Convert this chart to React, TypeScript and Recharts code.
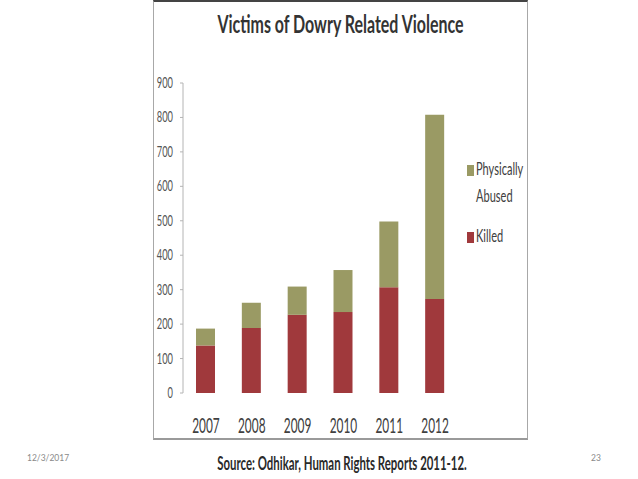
import React from 'react';
import { BarChart, Bar, XAxis, YAxis, Legend } from 'recharts';

// values
const years = ['2007', '2008', '2009', '2010', '2011', '2012'];
const killed = [138, 189, 227, 235, 307, 273];
const physicallyAbused = [49, 73, 82, 122, 191, 535];
const yTicks = [0, 100, 200, 300, 400, 500, 600, 700, 800, 900];
const edgeTicks = [0, 1, 2, 3, 4, 5, 6];

const KILLED_COLOR = '#a0393c';
const ABUSED_COLOR = '#9a9a64';
const AXIS_COLOR = '#b4b4b4';
const FONT = 'Lato, "Open Sans", sans-serif';

const data = years.map((year, i) => ({
  year,
  killed: killed[i],
  abused: physicallyAbused[i]
}));

// the source image is squeezed sideways, so every text is drawn narrow
const Narrow = ({ x, y, sx, children, ...rest }: any) => (
  <g transform={`translate(${x},${y}) scale(${sx},1)`}>
    <text x={0} y={0} fontFamily={FONT} {...rest}>{children}</text>
  </g>
);

const YTick = (props: any) => {
  const { x, y, payload } = props;
  return (
    <Narrow x={x} y={y + 5} sx={0.62} textAnchor="end" fontSize={15} fill="#555">
      {payload.value}
    </Narrow>
  );
};

const XTick = (props: any) => {
  const { x, y, payload } = props;
  return (
    <Narrow x={x} y={y + 40} sx={0.54} textAnchor="middle" fontSize={22} fill="#404040">
      {payload.value}
    </Narrow>
  );
};

const LegendBox = (props: any) => {
  const items = [...(props.payload || [])].reverse();
  return (
    <svg width={80} height={100} style={{ display: 'block', overflow: 'visible' }}>
      {items.map((item: any, i: number) => {
        const top = i === 0 ? 10 : 77;
        const words = item.value === 'Physically Abused' ? ['Physically', 'Abused'] : [item.value];
        return (
          <g key={item.value}>
            <rect x={5} y={top} width={7} height={11} fill={item.color} />
            {words.map((w: string, j: number) => (
              <Narrow key={w} x={14} y={top + 10 + j * 27} sx={0.65} fontSize={17} fill="#404040">
                {w}
              </Narrow>
            ))}
          </g>
        );
      })}
    </svg>
  );
};

export default function App() {
  return (
    <div style={{ position: 'fixed', left: 0, top: 0, width: 638, height: 479, background: '#fff', overflow: 'hidden' }}>
      <div style={{
        position: 'absolute', left: 153, top: 0, width: 373, height: 436,
        borderLeft: '1px solid #a8a8a8', borderRight: '1px solid #a8a8a8',
        borderBottom: '2px solid #9a9a9a', borderTop: '2px solid #444'
      }} />
      <div style={{ position: 'absolute', left: 0, top: 0 }}>
        <BarChart width={638} height={479} data={data}
          margin={{ top: 83, right: 180, bottom: 56, left: 153 }} barSize={19}>
          <XAxis xAxisId="edge" type="number" domain={[0, 6]} ticks={edgeTicks} allowDataOverflow
            height={0} tickSize={7} tick={() => <g />} interval={0}
            axisLine={{ stroke: AXIS_COLOR }} tickLine={{ stroke: AXIS_COLOR }} />
          <XAxis xAxisId="cat" dataKey="year" height={30} axisLine={false} tickLine={false}
            tickSize={0} tickMargin={0} interval={0} tick={<XTick />} />
          <YAxis domain={[0, 900]} ticks={yTicks} width={30} tickSize={3} tickMargin={7} interval={0}
            axisLine={{ stroke: AXIS_COLOR }} tickLine={{ stroke: AXIS_COLOR }} tick={<YTick />} />
          <Legend layout="vertical" align="center" verticalAlign="middle"
            wrapperStyle={{ left: 462, top: 155, width: 80, height: 100 }} content={<LegendBox />} />
          <Bar xAxisId="cat" dataKey="killed" name="Killed" stackId="a" fill={KILLED_COLOR} isAnimationActive={false} />
          <Bar xAxisId="cat" dataKey="abused" name="Physically Abused" stackId="a" fill={ABUSED_COLOR} isAnimationActive={false} />
        </BarChart>
      </div>
      <svg width={638} height={479} style={{ position: 'absolute', left: 0, top: 0, pointerEvents: 'none' }}>
        <Narrow x={340.5} y={33} sx={0.665} textAnchor="middle" fontWeight={700} fontSize={24} fill="#333">
          Victims of Dowry Related Violence
        </Narrow>
        <Narrow x={342} y={470} sx={0.6} textAnchor="middle" fontWeight={700} fontSize={19} fill="#2a2a2a">
          Source: Odhikar, Human Rights Reports 2011-12.
        </Narrow>
        <Narrow x={27} y={461} sx={0.85} fontSize={10} fill="#8a8a8a">12/3/2017</Narrow>
        <Narrow x={591} y={461} sx={0.85} fontSize={10} fill="#8a8a8a">23</Narrow>
      </svg>
    </div>
  );
}
